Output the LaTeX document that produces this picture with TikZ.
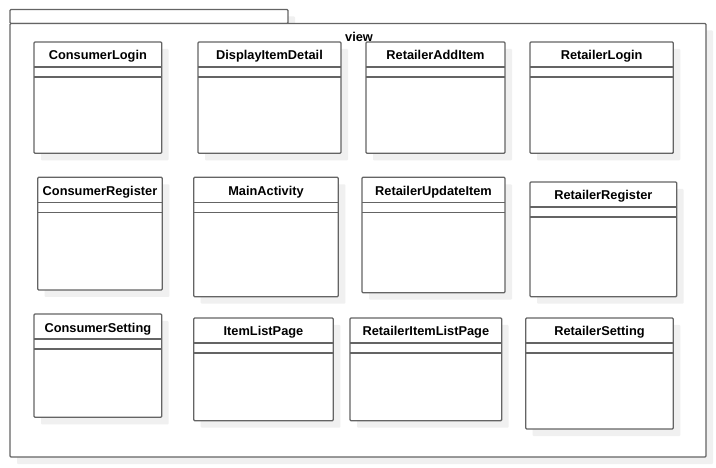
\documentclass[tikz,border=0pt]{standalone}
\usepackage{fontspec}
\setmainfont{Liberation Sans}
\usetikzlibrary{shadows}
\definecolor{linegray}{RGB}{100,100,100}
\definecolor{shadowgray}{RGB}{240,240,240}
\tikzset{
  umlbox/.style={draw=linegray,line width=1.3pt,fill=white,rounded corners=1pt,inner sep=0pt,outer sep=0pt,anchor=north west,
    drop shadow={fill=shadowgray,opacity=1,shadow xshift=7pt,shadow yshift=-7pt}},
  umlname/.style={font=\bfseries\fontsize{12.8}{15}\selectfont,inner sep=0pt,anchor=base},
  umlline/.style={draw=linegray,line width=1.3pt}
}
\newcommand{\umlclass}[6]{%
  \node[umlbox,minimum width={(#5-#3)*1pt},minimum height={(#6-#4)*1pt}] (#1) at (#3,#4) {};
  \node[umlname] (#1-name) at ([yshift=-18pt]#1.north) {#2};
  \draw[umlline] ([yshift=-25pt]#1.north west) -- ([yshift=-25pt]#1.north east);
  \draw[umlline] ([yshift=-35pt]#1.north west) -- ([yshift=-35pt]#1.north east);
}
\begin{document}
\begin{tikzpicture}[x=1pt,y=-1pt]
\useasboundingbox (0,0) rectangle (716,468);
\node[umlbox,minimum width=278pt,minimum height=14pt] (tab) at (10,9.5) {};
\node[umlbox,minimum width=696pt,minimum height=433.5pt] (viewpkg) at (10,23.5) {};
\node[umlname,anchor=base west] (viewlabel) at (345,42) {view};
\umlclass{consumerlogin}{ConsumerLogin}{34}{42}{161.7}{153.3}
\umlclass{displayitemdetail}{DisplayItemDetail}{198}{42}{341}{153.3}
\umlclass{retaileradditem}{RetailerAddItem}{366}{42}{505}{153.3}
\umlclass{retailerlogin}{RetailerLogin}{530}{42}{673.3}{153.3}
\umlclass{consumerregister}{ConsumerRegister}{37.7}{177.3}{162.3}{290}
\umlclass{mainactivity}{MainActivity}{193.7}{177.3}{338.3}{296.7}
\umlclass{retailerupdateitem}{RetailerUpdateItem}{362}{177.3}{505}{292.7}
\umlclass{retailerregister}{RetailerRegister}{530}{182}{676.7}{296.7}
\umlclass{consumersetting}{ConsumerSetting}{34}{314}{161.7}{417.3}
\umlclass{itemlistpage}{ItemListPage}{193.7}{318}{333.3}{420.7}
\umlclass{retaileritemlistpage}{RetailerItemListPage}{350}{318}{501.7}{420.7}
\umlclass{retailersetting}{RetailerSetting}{525.7}{318}{673.3}{429}
\end{tikzpicture}
\end{document}
